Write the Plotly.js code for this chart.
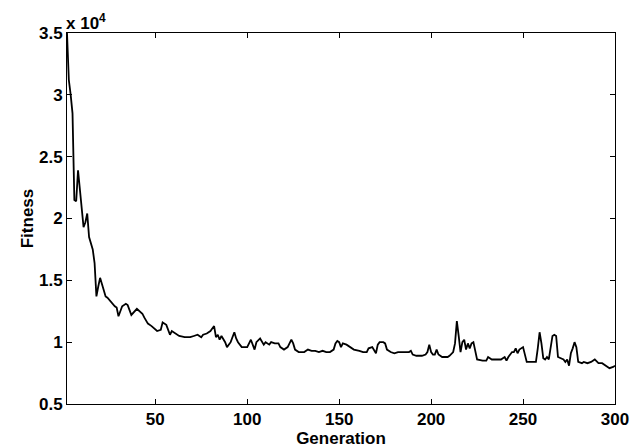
<!DOCTYPE html>
<html>
<head>
<meta charset="utf-8">
<script src="https://cdn.plot.ly/plotly-3.0.1.min.js"></script>
<style>html,body{margin:0;padding:0;background:#fff;}#chart{width:640px;height:448px;}</style>
</head>
<body>
<div id="chart"></div>
<script>
// Generation numbers at which the curve was read
var generation = [2,3,4,5,6,7,8,9,10,11,12,13,14,15,16,17,18,19,20,21,22,23,24,26,28,29,30,32,34,35,37,40,43,44,46,48,51,53,54,56,57,58,59,61,63,66,69,71,73,75,76,78,80,81,82,83,84,85,86,88,89,91,93,94,95,97,100,101,102,104,105,107,108,109,110,112,113,115,117,118,120,122,124,125,126,128,131,133,135,137,139,141,143,145,147,148,149,150,151,152,154,155,157,158,161,163,165,166,168,169,170,171,172,174,175,176,178,180,182,186,188,189,190,192,195,197,198,199,200,201,202,203,204,206,209,210,212,213,214,215,216,217,218,219,220,221,222,223,224,225,228,230,231,233,235,238,240,241,242,244,245,246,247,248,250,251,252,254,257,258,259,260,261,262,263,264,265,266,267,268,269,271,272,273,274,275,276,277,278,279,280,282,283,285,287,289,291,293,295,297,299,300];
// Fitness values
var fitness = [35000,31200,30000,28500,21500,21400,23900,22500,21200,19300,19700,20400,18500,18000,17500,16400,13700,14500,15200,14700,14200,13700,13600,13200,12900,12800,12100,12900,13100,13000,12200,12700,12300,12000,11500,11300,10900,11000,11600,11400,11000,10600,10900,10700,10500,10400,10400,10500,10600,10400,10600,10700,10900,11100,11300,10400,10600,10200,10500,10000,9600,10000,10800,10300,10000,9600,9600,9900,10200,9400,10000,10300,10000,9800,10000,9800,10000,9900,9900,9600,9400,9600,10200,9900,9400,9200,9200,9400,9300,9300,9200,9300,9200,9200,9400,9900,10100,10000,9600,9900,9800,9700,9500,9400,9300,9200,9200,9500,9600,9400,9100,9800,10000,10000,9900,9400,9200,9100,9200,9200,9200,9300,9000,8900,8900,9000,9200,9800,9200,9000,9000,9400,9000,8800,8800,8900,9200,9900,11700,10500,9200,10000,10200,9400,9900,9500,9900,10000,9400,8600,8500,8500,8800,8600,8600,8600,8800,8500,8800,9200,9200,9500,9100,9400,9600,9100,8400,8400,8400,9500,10800,9900,8700,8600,8800,8600,9500,10500,10600,10500,8800,8700,8600,8400,8600,8100,9100,9500,10000,9600,8400,8300,8400,8300,8400,8600,8300,8300,8100,7900,8000,8100];
var xTicks = [50,100,150,200,250,300];
var yTicks = [5000,10000,15000,20000,25000,30000,35000];
var yTickText = ['0.5','1','1.5','2','2.5','3','3.5'];

var tickFont = {family:'"Liberation Sans", Arial, sans-serif', size:17, color:'#000', weight:'bold'};
var trace = {
  x: generation, y: fitness, type:'scatter', mode:'lines',
  line:{color:'#000', width:1.8}, hoverinfo:'skip'
};
var layout = {
  width:640, height:448,
  margin:{l:67, r:25, t:33, b:44},
  paper_bgcolor:'#fff', plot_bgcolor:'#fff',
  showlegend:false,
  xaxis:{
    range:[2,300], tickvals:xTicks, ticktext:xTicks.map(String),
    ticks:'inside', ticklen:5, tickcolor:'#000', tickwidth:1,
    showline:true, mirror:'ticks', linecolor:'#000', linewidth:1,
    showgrid:false, zeroline:false, tickfont:tickFont,
    title:{text:'Generation', font:tickFont, standoff:0}
  },
  yaxis:{
    range:[5000,35000], tickvals:yTicks, ticktext:yTickText,
    ticks:'inside', ticklen:5, tickcolor:'#000', tickwidth:1,
    showline:true, mirror:'ticks', linecolor:'#000', linewidth:1,
    showgrid:false, zeroline:false, tickfont:tickFont,
    title:{text:'Fitness', font:tickFont, standoff:1}
  },
  annotations:[{
    text:'x 10<sup>4</sup>', xref:'paper', yref:'paper', x:0, y:1,
    xanchor:'left', yanchor:'bottom', showarrow:false, yshift:-2, xshift:-3,
    font:{family:'"Liberation Sans", Arial, sans-serif', size:17, color:'#000', weight:'bold'}
  }]
};
Plotly.newPlot('chart', [trace], layout, {displayModeBar:false, staticPlot:true});
</script>
</body>
</html>
